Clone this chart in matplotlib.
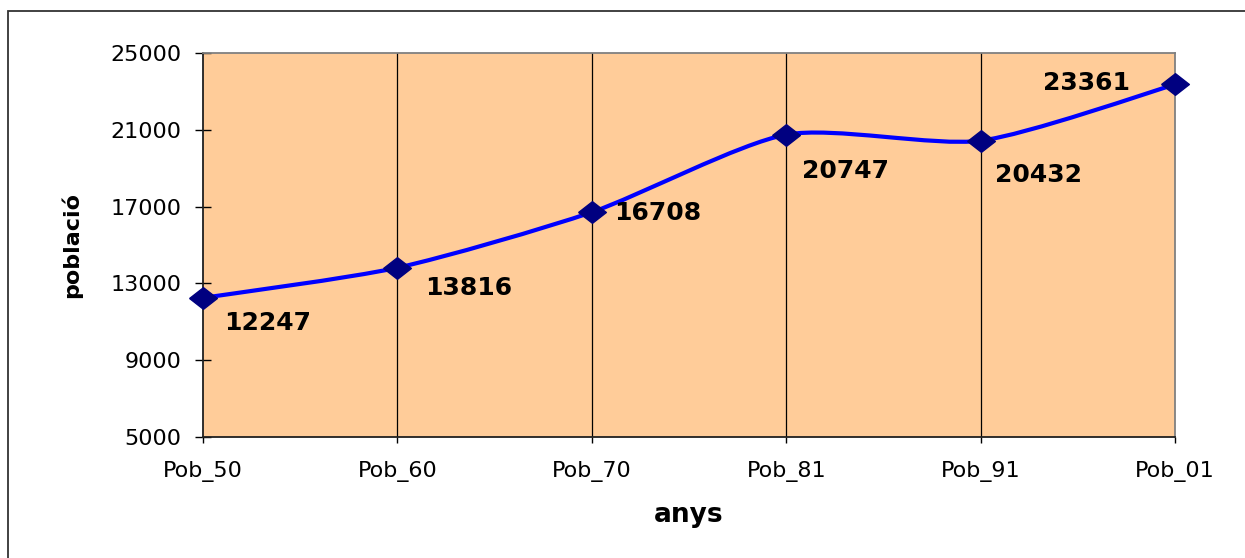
import numpy as np
import matplotlib
matplotlib.use('Agg')
import matplotlib.pyplot as plt
from matplotlib.path import Path
from matplotlib.patches import PathPatch, Rectangle

# Data
categories = ['Pob_50', 'Pob_60', 'Pob_70', 'Pob_81', 'Pob_91', 'Pob_01']
population = [12247, 13816, 16708, 20747, 20432, 23361]
yticks = [5000, 9000, 13000, 17000, 21000, 25000]

# label offsets in pixels (dx, dy, ha)
label_offsets = [(21, -25, 'left'), (28, -20, 'left'), (22, -1, 'left'),
                 (16, -36, 'left'), (14, -34, 'left'), (-45, 1, 'right')]

W, H = 1245, 558
fig = plt.figure(figsize=(W / 100, H / 100), dpi=100)
ax = fig.add_axes([203 / W, 1 - 437 / H, (1175 - 203) / W, (437 - 53) / H])
ax.set_facecolor('#FFCC99')

x = np.arange(len(categories))
y = np.array(population, dtype=float)

# smoothed line like Excel (cubic Bezier through the points)
tension = 0.12
verts = [(x[0], y[0])]
codes = [Path.MOVETO]
n = len(x)
for i in range(n - 1):
    p0 = np.array([x[max(i - 1, 0)], y[max(i - 1, 0)]])
    p1 = np.array([x[i], y[i]])
    p2 = np.array([x[i + 1], y[i + 1]])
    p3 = np.array([x[min(i + 2, n - 1)], y[min(i + 2, n - 1)]])
    c1 = p1 + (p2 - p0) * tension
    c2 = p2 - (p3 - p1) * tension
    verts += [tuple(c1), tuple(c2), tuple(p2)]
    codes += [Path.CURVE4] * 3
ax.add_patch(PathPatch(Path(verts, codes), fill=False, edgecolor='#0000FF',
                       lw=3, zorder=3, joinstyle='round', capstyle='round'))

diamond = [(-1, 0), (0, 0.78), (1, 0), (0, -0.78), (-1, 0)]
ax.plot(x, y, linestyle='none', marker=diamond, markersize=20,
        color='#000080', zorder=4, clip_on=False)

for xi, yi, (dx, dy, ha) in zip(x, population, label_offsets):
    ax.annotate(str(yi), (xi, yi), xytext=(dx, dy), textcoords='offset pixels',
                ha=ha, va='center', fontsize=18, fontweight='bold',
                family='DejaVu Sans', color='black', zorder=5)

ax.set_xlim(0, len(categories) - 1)
ax.set_ylim(5000, 25000)
ax.set_xticks(x)
ax.set_xticklabels(categories, fontsize=16)
ax.set_yticks(yticks)
ax.set_yticklabels([str(t) for t in yticks], fontsize=16)
ax.tick_params(axis='y', direction='inout', length=11, width=1, pad=10)
ax.tick_params(axis='x', direction='out', length=4.5, width=1, pad=13)

for xv in x[1:-1]:
    ax.axvline(xv, color='black', lw=0.9, zorder=1)

ax.spines['left'].set_color('#202020')
ax.spines['bottom'].set_color('#202020')
ax.spines['top'].set_color('#808080')
ax.spines['right'].set_color('#808080')
for s in ax.spines.values():
    s.set_linewidth(1.3)

ax.set_xlabel('anys', fontsize=19, fontweight='bold', labelpad=14)
ax.set_ylabel('població', fontsize=16, fontweight='bold', labelpad=20)

# outer chart border
fig.patches.append(Rectangle((8 / W, -0.1), 1.2, 1 - 11 / H + 0.1,
                             transform=fig.transFigure, fill=False,
                             edgecolor='#333333', lw=1.3))

fig.savefig('out.png', dpi=100)
